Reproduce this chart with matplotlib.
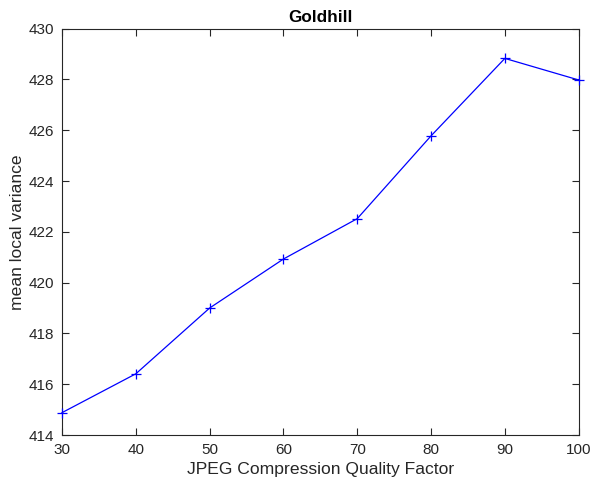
import numpy as np
import matplotlib
matplotlib.use('Agg')
import matplotlib.pyplot as plt

plt.rcParams['font.family'] = ['Liberation Sans', 'DejaVu Sans']

# quality factor vs. mean local variance
quality = [30, 40, 50, 60, 70, 80, 90, 100]
meanVar = [414.88, 416.41, 419.0, 420.93, 422.52, 425.78, 428.83, 427.98]

fig = plt.figure(figsize=(5.94, 4.88), dpi=100)
ax = fig.add_axes([0.1044, 0.1086, 0.8698, 0.8326])

ax.plot(quality, meanVar, color='b', linewidth=0.9, marker='+', markersize=7.5,
        markeredgewidth=0.9, clip_on=False, zorder=5)

ax.set_xlim(30, 100)
ax.set_ylim(414, 430)
ax.set_xticks(np.arange(30, 101, 10))
ax.set_yticks(np.arange(414, 431, 2))

edge = '#262626'
for s in ax.spines.values():
    s.set_color(edge)
    s.set_linewidth(0.8)
ax.tick_params(direction='in', top=True, right=True, length=5, width=0.8,
               colors=edge, labelsize=11, labelcolor='#262626', pad=6)

ax.set_title('Goldhill', fontsize=12.3, fontweight='bold', pad=5)
ax.set_xlabel('JPEG Compression Quality Factor', fontsize=12.6, color='#262626', labelpad=3)
ax.set_ylabel('mean local variance', fontsize=12.6, color='#262626', labelpad=2)

fig.savefig('out.png', dpi=100)
